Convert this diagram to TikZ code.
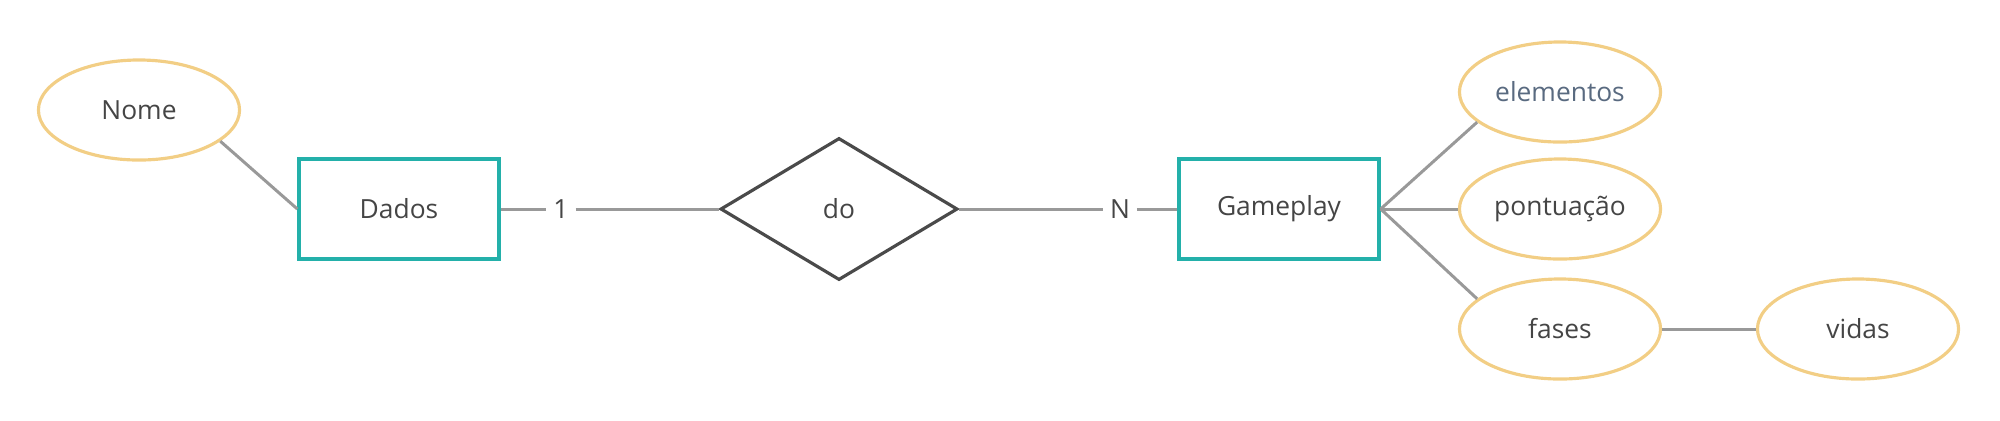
\documentclass[tikz,border=0pt]{standalone}
\usepackage{fontspec}
\setmainfont{Open Sans}
\usetikzlibrary{shapes.geometric}
\definecolor{texto}{RGB}{69,69,69}
\definecolor{textoazul}{RGB}{89,106,128}
\definecolor{teal}{RGB}{35,176,170}
\definecolor{ouro}{RGB}{242,206,133}
\definecolor{escuro}{RGB}{74,74,74}
\definecolor{cinza}{RGB}{153,153,153}
\tikzset{
  font={\fontsize{7.5pt}{9}\selectfont}}

\begin{document}
\begin{tikzpicture}[x=0.01cm,y=-0.01cm]
\tikzstyle{every node}+=[inner sep=0pt, text=texto]
\tikzstyle{entidade}=[draw=teal, line width=0.9pt, minimum width=2cm, minimum height=1cm]
\tikzstyle{atributo}=[ellipse, draw=ouro, line width=0.9pt, minimum width=2.01cm, minimum height=1cm]
\tikzstyle{relacao}=[diamond, draw=escuro, line width=0.9pt, aspect=1.67, minimum width=2.37cm, minimum height=1.42cm]
\tikzstyle{card}=[inner xsep=1.8pt]
\tikzstyle{liga}=[draw=cinza, line width=0.85pt]
\useasboundingbox (0,0) rectangle (2000,420);
\node [atributo] (nome) at (139,110) {Nome};
\node [entidade] (dados) at (399,209) {Dados};
\node [relacao] (do) at (839,209) {do};
\node [entidade] (gameplay) at (1279,209) {Gameplay};
\node [atributo, text=textoazul] (elementos) at (1560,92) {elementos};
\node [atributo] (pontuacao) at (1560,209) {pontuação};
\node [atributo] (fases) at (1560,329) {fases};
\node [atributo] (vidas) at (1858,329) {vidas};
\node [card] (um) at (561,209) {1};
\node [card] (n) at (1120,209) {N};
\draw [liga] (nome.-21) -- (dados.west);
\draw [liga] (dados) -- (um) -- (do);
\draw [liga] (do) -- (n) -- (gameplay);
\draw [liga] (gameplay.east) -- (elementos.200);
\draw [liga] (gameplay) -- (pontuacao);
\draw [liga] (gameplay.east) -- (fases.160);
\draw [liga] (fases) -- (vidas);
\end{tikzpicture}
\end{document}
